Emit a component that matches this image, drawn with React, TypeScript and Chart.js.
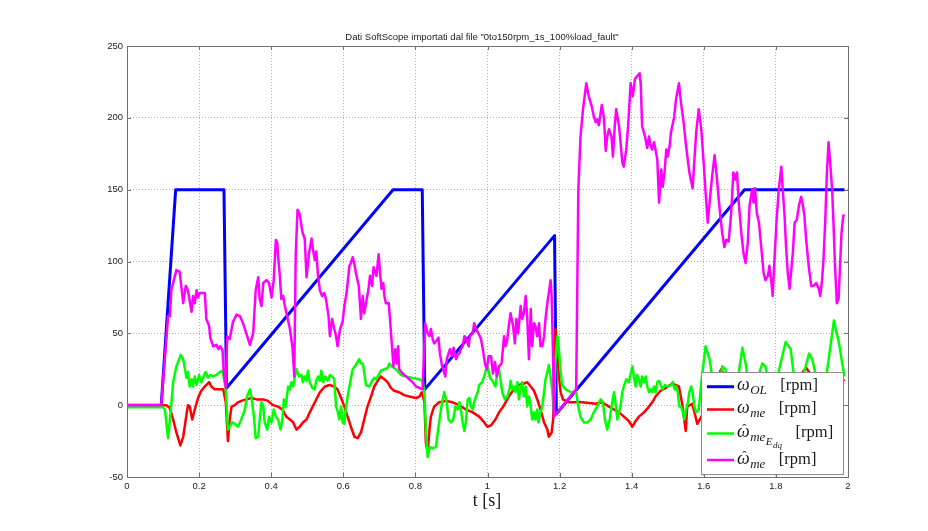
import { useEffect, useRef } from 'react';
import { Chart, registerables } from 'chart.js';

Chart.register(...registerables);

// ---- data: [t (s), speed (rpm)] ----
const omegaOL: [number, number][] = [
  [0, 0], [0.095, 0], [0.135, 150], [0.269, 150], [0.276, 12], [0.738, 150], [0.819, 150],
  [0.826, 11], [1.186, 118], [1.191, -6], [1.713, 150], [1.99, 150],
];

const omegaMe: [number, number][] = [
  [0, 0], [0.109, 0], [0.119, -2], [0.128, -10], [0.137, -19], [0.148, -28], [0.156, -22], [0.163, -10],
  [0.169, 0], [0.174, -1], [0.181, -10], [0.188, -3], [0.197, 5], [0.206, 10], [0.216, 13], [0.228, 16],
  [0.234, 13], [0.243, 11], [0.257, 11], [0.267, 11], [0.274, 2], [0.28, -25], [0.285, -10], [0.29, -1],
  [0.299, 0], [0.308, 2], [0.317, 3], [0.331, 4], [0.345, 5], [0.359, 4], [0.378, 4], [0.391, 3],
  [0.405, 0], [0.419, -1], [0.431, -3], [0.442, -8], [0.452, -10], [0.461, -12], [0.47, -17], [0.479, -15],
  [0.488, -12], [0.498, -10], [0.507, -5], [0.521, 2], [0.535, 9], [0.549, 13], [0.562, 14], [0.575, 13],
  [0.584, 11], [0.594, 5], [0.603, -1], [0.612, -8], [0.621, -15], [0.631, -22], [0.64, -23], [0.649, -19],
  [0.658, -10], [0.667, -1], [0.677, 6], [0.686, 13], [0.698, 18], [0.704, 20], [0.714, 18], [0.723, 16],
  [0.732, 12], [0.741, 10], [0.755, 9], [0.769, 7], [0.783, 6], [0.802, 5], [0.811, 6], [0.818, 9],
  [0.825, 2], [0.829, -26], [0.834, -33], [0.839, -17], [0.843, -8], [0.852, -1], [0.866, 2], [0.885, 3],
  [0.903, 2], [0.922, 0], [0.94, -3], [0.959, -5], [0.977, -8], [0.991, -12], [1.0, -15], [1.01, -14],
  [1.022, -10], [1.032, -5], [1.046, 0], [1.059, 6], [1.073, 11], [1.087, 14], [1.101, 15], [1.11, 16],
  [1.12, 13], [1.129, 10], [1.138, 4], [1.147, -3], [1.157, -12], [1.166, -17], [1.17, -22], [1.178, -19],
  [1.182, -10], [1.185, 20], [1.189, 53], [1.194, 39], [1.198, 20], [1.203, 9], [1.209, 4], [1.226, 2],
  [1.263, 2], [1.3, 1], [1.318, 2], [1.337, -1], [1.351, -3], [1.365, -5], [1.383, -9], [1.392, -11],
  [1.402, -15], [1.411, -11], [1.42, -8], [1.434, -5], [1.448, -1], [1.457, 2], [1.466, 6], [1.48, 10],
  [1.494, 12], [1.513, 15], [1.531, 13], [1.54, 1], [1.55, -18], [1.554, -1], [1.568, 1], [1.582, -13],
  [1.6, -5], [1.625, 10], [1.648, 25], [1.67, 15], [1.7, 5], [1.73, 15], [1.754, 22], [1.78, 10],
  [1.81, 5], [1.85, 15], [1.884, 26], [1.9, 20], [1.93, 5], [1.96, 10], [1.99, 18],
];

const omegaHatEdq: [number, number][] = [
  [0, -1.5], [0.1, -1.5], [0.105, -3], [0.114, -23], [0.12, -8], [0.128, 16], [0.137, 27], [0.149, 35],
  [0.156, 32], [0.165, 19], [0.169, 23], [0.174, 13], [0.179, 18], [0.183, 13], [0.188, 20], [0.193, 14],
  [0.2, 21], [0.206, 16], [0.211, 19], [0.218, 23], [0.225, 19], [0.231, 21], [0.239, 20], [0.248, 21],
  [0.257, 23], [0.265, 24], [0.274, 11], [0.28, -17], [0.285, -15], [0.292, -12], [0.299, -13], [0.308, -15],
  [0.317, -10], [0.327, -3], [0.333, 6], [0.341, 11], [0.345, 6], [0.352, -8], [0.357, -23], [0.364, -22],
  [0.368, -10], [0.373, 2], [0.378, -1], [0.382, -12], [0.389, -17], [0.394, -8], [0.401, -12], [0.407, -3],
  [0.413, -8], [0.419, -10], [0.426, -17], [0.431, -10], [0.435, 4], [0.44, -1], [0.447, 13], [0.452, 11],
  [0.456, 16], [0.461, 13], [0.465, 19], [0.47, 25], [0.477, 20], [0.484, 21], [0.488, 16], [0.493, 20],
  [0.498, 17], [0.502, 24], [0.507, 16], [0.514, 12], [0.521, 11], [0.525, 17], [0.53, 20], [0.535, 17],
  [0.539, 24], [0.544, 16], [0.55, 20], [0.557, 17], [0.563, 21], [0.569, 20], [0.575, 18], [0.58, -1],
  [0.584, -4], [0.589, -10], [0.594, -1], [0.598, -12], [0.603, -13], [0.607, -3], [0.612, 6], [0.617, 13],
  [0.626, 25], [0.635, 28], [0.644, 32], [0.649, 29], [0.654, 29], [0.658, 23], [0.663, 14], [0.672, 13],
  [0.68, 17], [0.686, 19], [0.691, 18], [0.698, 21], [0.704, 24], [0.714, 25], [0.723, 26], [0.728, 29],
  [0.735, 27], [0.746, 25], [0.76, 21], [0.774, 20], [0.792, 19], [0.811, 18], [0.82, 17], [0.825, 9],
  [0.829, -17], [0.834, -36], [0.84, -29], [0.848, -30], [0.857, -29], [0.862, -19], [0.868, -8], [0.874, 2],
  [0.88, 9], [0.887, 2], [0.892, -10], [0.899, -12], [0.905, -10], [0.911, -1], [0.917, -3], [0.922, 2],
  [0.926, -3], [0.931, -12], [0.936, -18], [0.94, -12], [0.945, 4], [0.95, 5], [0.954, -1], [0.959, -3],
  [0.963, 2], [0.968, 6], [0.973, 9], [0.977, 14], [0.985, 16], [0.991, 20], [0.996, 25], [1.0, 27],
  [1.007, 19], [1.014, 17], [1.022, 13], [1.027, 23], [1.032, 25], [1.036, 18], [1.041, 9], [1.048, 4],
  [1.055, 6], [1.061, 11], [1.064, 17], [1.069, 11], [1.073, 13], [1.078, 9], [1.083, 16], [1.087, 4],
  [1.092, 12], [1.096, 16], [1.101, 6], [1.106, 13], [1.11, -1], [1.115, 6], [1.12, -1], [1.124, -10],
  [1.129, -5], [1.133, -10], [1.138, -3], [1.141, -12], [1.147, -5], [1.152, -1], [1.157, 9], [1.161, 18],
  [1.166, 23], [1.17, 28], [1.175, 20], [1.18, 9], [1.184, -5], [1.189, 32], [1.194, 48], [1.198, 39],
  [1.203, 23], [1.207, 14], [1.217, 11], [1.231, 9], [1.246, 9], [1.252, -1], [1.258, -8], [1.267, -12],
  [1.277, -12], [1.286, -10], [1.295, -5], [1.304, -1], [1.314, 4], [1.32, 2], [1.326, -10], [1.332, -17],
  [1.339, -10], [1.346, 2], [1.351, 9], [1.355, 2], [1.36, -10], [1.365, -5], [1.369, -1], [1.374, 9],
  [1.378, 13], [1.385, 18], [1.392, 16], [1.402, 27], [1.406, 20], [1.411, 13], [1.415, 21], [1.42, 18],
  [1.425, 13], [1.429, 20], [1.434, 16], [1.439, 20], [1.443, 13], [1.448, 9], [1.452, 11], [1.457, 9],
  [1.462, 13], [1.466, 9], [1.471, 16], [1.476, 17], [1.485, 11], [1.492, 14], [1.499, 13], [1.509, 14],
  [1.514, 16], [1.519, 11], [1.523, 13], [1.528, 9], [1.532, -1], [1.537, -1], [1.542, -5], [1.546, -10],
  [1.551, -3], [1.556, 2], [1.56, 9], [1.565, 13], [1.569, 9], [1.574, -1], [1.579, -5], [1.586, -3],
  [1.595, 20], [1.605, 41], [1.616, 32], [1.623, 20], [1.635, 5], [1.645, 15], [1.651, 27], [1.66, 25],
  [1.675, 5], [1.69, 10], [1.707, 40], [1.716, 29], [1.73, 5], [1.745, 15], [1.762, 29], [1.771, 27],
  [1.785, 8], [1.8, 15], [1.827, 44], [1.841, 39], [1.855, 10], [1.87, 15], [1.892, 36], [1.901, 32],
  [1.92, 10], [1.94, 20], [1.961, 59], [1.975, 43], [1.99, 20],
];

const omegaHatMe: [number, number][] = [
  [0, 0], [0.095, 0], [0.114, 62], [0.119, 62], [0.123, 80], [0.137, 94], [0.146, 93], [0.156, 71],
  [0.163, 83], [0.169, 80], [0.179, 65], [0.183, 76], [0.188, 71], [0.193, 80], [0.197, 75], [0.202, 78],
  [0.211, 78], [0.216, 78], [0.22, 60], [0.228, 55], [0.231, 47], [0.239, 41], [0.248, 42], [0.253, 39],
  [0.259, 41], [0.265, 38], [0.268, 25], [0.274, 12], [0.278, 48], [0.285, 46], [0.294, 58], [0.304, 63],
  [0.313, 62], [0.322, 57], [0.331, 50], [0.341, 42], [0.35, 50], [0.357, 80], [0.364, 89], [0.368, 74],
  [0.373, 69], [0.378, 85], [0.387, 87], [0.394, 85], [0.401, 75], [0.407, 87], [0.413, 115], [0.417, 113],
  [0.419, 104], [0.424, 90], [0.428, 74], [0.433, 76], [0.438, 69], [0.444, 62], [0.452, 53], [0.459, 40],
  [0.464, 20], [0.468, 104], [0.473, 136], [0.479, 133], [0.487, 120], [0.493, 116], [0.498, 89], [0.505, 106],
  [0.512, 116], [0.516, 108], [0.521, 101], [0.525, 107], [0.53, 90], [0.535, 80], [0.541, 76], [0.547, 78],
  [0.552, 74], [0.559, 62], [0.563, 48], [0.569, 60], [0.575, 53], [0.58, 48], [0.584, 41], [0.591, 53],
  [0.598, 58], [0.603, 69], [0.609, 78], [0.617, 97], [0.621, 99], [0.626, 103], [0.631, 98], [0.635, 92],
  [0.643, 83], [0.649, 60], [0.654, 76], [0.658, 64], [0.663, 71], [0.67, 81], [0.674, 90], [0.68, 83],
  [0.684, 96], [0.689, 92], [0.692, 90], [0.698, 105], [0.702, 92], [0.706, 81], [0.711, 85], [0.714, 76],
  [0.718, 71], [0.726, 71], [0.729, 62], [0.735, 41], [0.739, 27], [0.744, 39], [0.748, 29], [0.752, 41],
  [0.755, 25], [0.765, 22], [0.774, 20], [0.783, 18], [0.792, 16], [0.802, 13], [0.811, 12], [0.82, 11],
  [0.827, 57], [0.834, 50], [0.839, 48], [0.843, 53], [0.848, 46], [0.852, 43], [0.859, 45], [0.864, 47],
  [0.868, 36], [0.874, 27], [0.877, 25], [0.883, 20], [0.887, 32], [0.892, 36], [0.896, 39], [0.901, 34],
  [0.906, 40], [0.913, 32], [0.917, 35], [0.922, 36], [0.926, 39], [0.931, 41], [0.936, 48], [0.94, 47],
  [0.948, 41], [0.951, 48], [0.959, 50], [0.963, 57], [0.968, 53], [0.975, 50], [0.982, 46], [0.987, 39],
  [0.993, 29], [0.998, 25], [1.003, 34], [1.01, 34], [1.015, 22], [1.021, 30], [1.026, 20], [1.032, 27],
  [1.039, 29], [1.046, 48], [1.05, 41], [1.055, 46], [1.059, 55], [1.064, 64], [1.071, 55], [1.076, 43],
  [1.08, 60], [1.085, 50], [1.092, 69], [1.096, 60], [1.101, 64], [1.106, 76], [1.11, 62], [1.115, 32],
  [1.12, 67], [1.124, 41], [1.129, 57], [1.133, 55], [1.138, 48], [1.143, 57], [1.147, 41], [1.152, 41],
  [1.157, 48], [1.161, 60], [1.166, 71], [1.17, 78], [1.175, 87], [1.178, 76], [1.182, 32], [1.184, -8],
  [1.191, -6], [1.246, 11], [1.252, 150], [1.258, 187], [1.265, 206], [1.274, 224], [1.281, 215], [1.289, 208],
  [1.295, 201], [1.3, 197], [1.304, 199], [1.309, 195], [1.317, 209], [1.323, 200], [1.328, 177], [1.332, 187],
  [1.337, 192], [1.344, 187], [1.348, 173], [1.353, 194], [1.357, 206], [1.365, 194], [1.369, 183], [1.374, 169],
  [1.378, 166], [1.385, 178], [1.39, 194], [1.397, 224], [1.403, 215], [1.409, 227], [1.415, 229], [1.422, 231],
  [1.425, 224], [1.429, 194], [1.437, 187], [1.443, 179], [1.448, 187], [1.453, 180], [1.457, 178], [1.462, 183],
  [1.466, 178], [1.471, 171], [1.476, 141], [1.482, 164], [1.486, 152], [1.491, 162], [1.496, 178], [1.5, 173],
  [1.505, 180], [1.509, 190], [1.518, 201], [1.523, 213], [1.531, 224], [1.537, 210], [1.544, 197], [1.551, 180],
  [1.56, 162], [1.569, 151], [1.574, 171], [1.579, 190], [1.586, 206], [1.593, 192], [1.599, 171], [1.605, 148],
  [1.611, 127], [1.616, 141], [1.623, 159], [1.63, 174], [1.636, 159], [1.643, 139], [1.651, 120], [1.657, 110],
  [1.662, 115], [1.669, 114], [1.676, 134], [1.682, 162], [1.688, 157], [1.692, 162], [1.697, 141], [1.704, 120],
  [1.71, 106], [1.716, 99], [1.722, 113], [1.727, 139], [1.734, 150], [1.738, 141], [1.742, 151], [1.747, 134],
  [1.753, 127], [1.759, 111], [1.766, 92], [1.771, 87], [1.778, 90], [1.782, 97], [1.787, 87], [1.791, 76],
  [1.796, 101], [1.802, 129], [1.808, 150], [1.815, 166], [1.819, 150], [1.824, 132], [1.828, 111], [1.833, 92],
  [1.838, 81], [1.842, 92], [1.847, 106], [1.852, 127], [1.858, 129], [1.864, 139], [1.87, 145], [1.875, 139],
  [1.879, 132], [1.884, 115], [1.891, 97], [1.898, 83], [1.904, 83], [1.912, 85], [1.919, 81], [1.923, 76],
  [1.928, 87], [1.932, 101], [1.937, 129], [1.941, 159], [1.946, 183], [1.95, 171], [1.956, 150], [1.96, 125],
  [1.964, 97], [1.969, 71], [1.974, 74], [1.978, 97], [1.982, 120], [1.987, 132], [1.991, 132],
];

const xTickValues = [0, 0.2, 0.4, 0.6, 0.8, 1, 1.2, 1.4, 1.6, 1.8, 2];
const xTickLabels = ['0', '0.2', '0.4', '0.6', '0.8', '1', '1.2', '1.4', '1.6', '1.8', '2'];
const yTickValues = [-50, 0, 50, 100, 150, 200, 250];
const yTickLabels = ['-50', '0', '50', '100', '150', '200', '250'];

const titleText = 'Dati SoftScope importati dal file "0to150rpm_1s_100%load_fault"';
const xLabelText = 't [s]';

const seriesLabels = ['ω_OL [rpm]', 'ω_me [rpm]', 'ω̂_me_E_dq [rpm]', 'ω̂_me [rpm]'];
const seriesColors = ['#0000ff', '#ff0000', '#00ff00', '#ff00ff'];

type Seg = { t: string; size: number; dy: number; it: boolean; hat?: boolean };
const SERIF = "'Liberation Serif', 'DejaVu Serif', serif";
const SANS = "'Liberation Sans', Arial, 'DejaVu Sans', sans-serif";

const legendRows: Seg[][] = [
  [{ t: 'ω', size: 18, dy: 0, it: true }, { t: 'OL', size: 13, dy: 4, it: true }],
  [{ t: 'ω', size: 18, dy: 0, it: true }, { t: 'me', size: 13, dy: 4, it: true }],
  [
    { t: 'ω', size: 18, dy: 0, it: true, hat: true },
    { t: 'me', size: 13, dy: 4, it: true },
    { t: 'E', size: 11, dy: 8, it: true },
    { t: 'dq', size: 9, dy: 11, it: true },
  ],
  [{ t: 'ω', size: 18, dy: 0, it: true, hat: true }, { t: 'me', size: 13, dy: 4, it: true }],
];

const decorPlugin = {
  id: 'matlabDecor',
  afterDatasetsDraw(chart: any) {
    const { ctx, chartArea: a, scales } = chart;
    ctx.save();
    // axes box
    ctx.strokeStyle = '#6e6e6e';
    ctx.lineWidth = 1;
    ctx.setLineDash([]);
    ctx.strokeRect(Math.round(a.left) + 0.5, Math.round(a.top) + 0.5, Math.round(a.right - a.left), Math.round(a.bottom - a.top));
    // inward ticks
    ctx.beginPath();
    xTickValues.forEach((v) => {
      const px = Math.round(scales.x.getPixelForValue(v)) + 0.5;
      ctx.moveTo(px, a.bottom); ctx.lineTo(px, a.bottom - 4);
      ctx.moveTo(px, a.top); ctx.lineTo(px, a.top + 4);
    });
    yTickValues.forEach((v) => {
      const py = Math.round(scales.y.getPixelForValue(v)) + 0.5;
      ctx.moveTo(a.left, py); ctx.lineTo(a.left + 4, py);
      ctx.moveTo(a.right, py); ctx.lineTo(a.right - 4, py);
    });
    ctx.stroke();

    // title
    ctx.fillStyle = '#1a1a1a';
    ctx.font = `9.5px ${SANS}`;
    ctx.textAlign = 'center';
    ctx.textBaseline = 'middle';
    ctx.fillText(titleText, 482, 37);

    // x label
    ctx.font = `18px ${SERIF}`;
    ctx.textBaseline = 'alphabetic';
    ctx.fillText(xLabelText, 487, 506);

    // legend
    const lx = 701, ly = 372, lw = 142, lh = 102;
    ctx.fillStyle = '#ffffff';
    ctx.fillRect(lx, ly, lw, lh);
    ctx.strokeStyle = '#8c8c8c';
    ctx.lineWidth = 1;
    ctx.strokeRect(lx + 0.5, ly + 0.5, lw, lh);
    const rowY = [386.7, 409.5, 433.5, 460];
    legendRows.forEach((segs, i) => {
      const y = rowY[i];
      ctx.strokeStyle = seriesColors[i];
      ctx.lineWidth = i === 0 ? 3 : 2.5;
      ctx.beginPath();
      ctx.moveTo(707, y);
      ctx.lineTo(734, y);
      ctx.stroke();
      let x = 737;
      const base = y + 3.5;
      ctx.fillStyle = '#1a1a1a';
      ctx.textAlign = 'left';
      ctx.textBaseline = 'alphabetic';
      segs.forEach((s) => {
        ctx.font = `${s.it ? 'italic ' : ''}${s.size}px ${SERIF}`;
        const w = ctx.measureText(s.t).width;
        ctx.fillText(s.t, x, base + s.dy);
        if (s.hat) {
          ctx.font = `13px ${SERIF}`;
          ctx.textAlign = 'center';
          ctx.fillText('ˆ', x + w / 2 + 1, base - 4);
          ctx.textAlign = 'left';
        }
        x += w + 0.5;
      });
      x += 13;
      ctx.font = `16.5px ${SERIF}`;
      ctx.fillText('[rpm]', x, base);
    });
    ctx.restore();
  },
};

export default function App() {
  const ref = useRef<HTMLCanvasElement | null>(null);
  useEffect(() => {
    if (!ref.current) return;
    const toPts = (s: [number, number][]) => s.map(([x, y]) => ({ x, y }));
    const series = [omegaOL, omegaMe, omegaHatEdq, omegaHatMe];
    const chart = new Chart(ref.current, {
      type: 'line',
      data: {
        datasets: series.map((s, i) => ({
          label: seriesLabels[i],
          data: toPts(s),
          borderColor: seriesColors[i],
          backgroundColor: seriesColors[i],
          borderWidth: i === 0 ? 3 : 2.5,
          pointRadius: 0,
          tension: 0,
          fill: false,
          borderJoinStyle: 'round' as const,
          order: 3 - i,
        })),
      },
      options: {
        responsive: false,
        animation: false,
        events: [],
        layout: { padding: { top: 46, right: 80, left: 0, bottom: 0 } },
        plugins: {
          legend: { display: false },
          tooltip: { enabled: false },
          title: { display: false },
        },
        scales: {
          x: {
            type: 'linear',
            min: 0,
            max: 2,
            afterBuildTicks: (s: any) => { s.ticks = xTickValues.map((v) => ({ value: v })); },
            afterFit: (s: any) => { s.height = 54; },
            ticks: {
              callback: (_v: any, i: number) => xTickLabels[i],
              font: { size: 9.5, family: SANS },
              color: '#1a1a1a',
              padding: 4,
              maxRotation: 0,
              autoSkip: false,
            },
            grid: { color: 'rgba(0,0,0,0.3)', lineWidth: 1, drawTicks: false },
            border: { display: false, dash: [1, 2] },
          },
          y: {
            type: 'linear',
            min: -50,
            max: 250,
            afterBuildTicks: (s: any) => { s.ticks = yTickValues.map((v) => ({ value: v })); },
            afterFit: (s: any) => { s.width = 127; },
            ticks: {
              callback: (_v: any, i: number) => yTickLabels[i],
              font: { size: 9.5, family: SANS },
              color: '#1a1a1a',
              padding: 4,
              autoSkip: false,
            },
            grid: { color: 'rgba(0,0,0,0.3)', lineWidth: 1, drawTicks: false },
            border: { display: false, dash: [1, 2] },
          },
        },
      },
      plugins: [decorPlugin],
    });
    return () => chart.destroy();
  }, []);

  return (
    <div style={{ position: 'fixed', left: 0, top: 0, width: 928, height: 531, background: '#fff' }}>
      <canvas ref={ref} width={928} height={531} style={{ display: 'block', width: 928, height: 531 }} />
    </div>
  );
}
